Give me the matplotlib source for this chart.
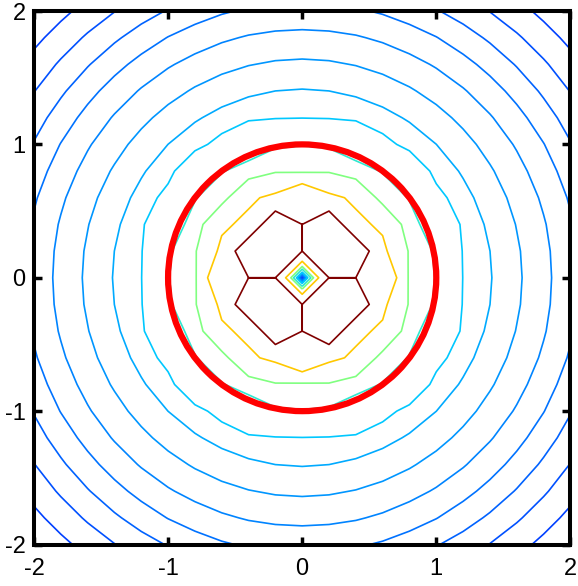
import numpy as np
import matplotlib.pyplot as plt
from matplotlib.patches import Circle

plt.rcParams['font.family'] = ['Liberation Sans', 'DejaVu Sans']
plt.rcParams['axes.unicode_minus'] = False

# grid used for the field (step 0.2)
grid_x = np.linspace(-2, 2, 21)

# radial profile of the field away from the centre (radius, value)
prof_r = [0.8, 0.98, 1.185, 1.415, 1.64, 1.865, 2.066, 2.249, 2.435, 2.635, 2.9]
prof_z = [0.491, 0.43, 0.33, 0.31, 0.29, 0.27, 0.25, 0.23, 0.21, 0.19, 0.163]

# field values near the centre, one octant, grid index (i, j)
inner_ij = [(0, 0), (1, 0), (1, 1), (2, 0), (2, 1), (2, 2), (3, 0),
            (3, 1), (3, 2), (3, 3), (4, 0), (4, 1), (4, 2)]
inner_z = [0.15, 1.0, 1.2, 1.0, 1.29, 0.71, 0.879,
           0.711, 0.649, 0.464, 0.491, 0.499, 0.45]

levels = [0.19, 0.21, 0.23, 0.25, 0.27, 0.29, 0.31, 0.33, 0.424, 0.51, 0.675, 1.0]
level_colors = ['#0040ff', '#0050ff', '#0062ff', '#0072ff', '#0084ff', '#0096ff',
                '#00aaff', '#00c8ff', '#30e8d0', '#80ff80', '#ffc800', '#800000']

circle_r = 1.0
ticks = [-2, -1, 0, 1, 2]
tick_labels = ['-2', '-1', '0', '1', '2']

X, Y = np.meshgrid(grid_x, grid_x)
R = np.hypot(X, Y)
Z = np.interp(R, prof_r, prof_z)
c = len(grid_x) // 2
for (i, j), z in zip(inner_ij, inner_z):
    for a, b in [(i, j), (j, i)]:
        for sa in (1, -1):
            for sb in (1, -1):
                Z[c + sb * b, c + sa * a] = z

fig = plt.figure(figsize=(5.78, 5.86), dpi=100)
ax = fig.add_axes([0.0588, 0.0708, 0.928, 0.9104])

ax.contour(X, Y, Z, levels=levels, colors=level_colors, linewidths=1.2)
ax.add_patch(Circle((0, 0), circle_r, fill=False, color='#ff0000', lw=4.5, zorder=5))

ax.set_xlim(-2, 2)
ax.set_ylim(-2, 2)
ax.set_xticks(ticks)
ax.set_xticklabels(tick_labels)
ax.set_yticks(ticks)
ax.set_yticklabels(tick_labels)
ax.tick_params(direction='in', top=True, right=True, length=5.5, width=2.5,
               labelsize=17, color='black')
ax.tick_params(axis='x', pad=10)
ax.tick_params(axis='y', pad=6)
for s in ax.spines.values():
    s.set_linewidth(2.9)

fig.savefig('out.png', dpi=100)
